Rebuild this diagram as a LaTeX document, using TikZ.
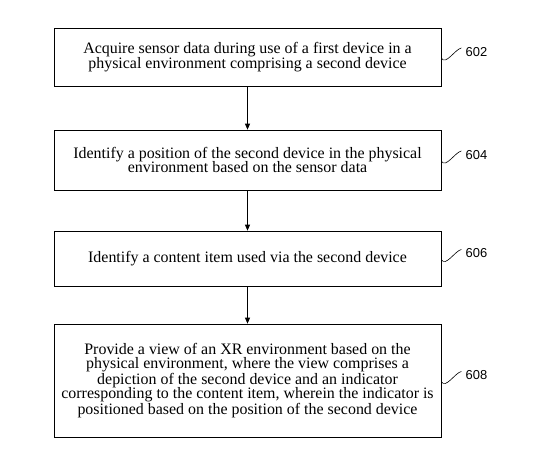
\documentclass[tikz,border=0pt]{standalone}
\usepackage{fontspec}
\setmainfont{Liberation Serif}
\newfontfamily\reffont{Liberation Sans}
\usetikzlibrary{arrows.meta,positioning}

\begin{document}
\begin{tikzpicture}[x=1bp,y=-1bp,
	stepbox/.style={draw,line width=0.7pt,minimum width=387bp,inner sep=0pt,align=center,font=\fontsize{16}{14.6}\selectfont},
	ref/.style={font=\reffont\fontsize{13}{15}\selectfont,anchor=west,xshift=4bp,yshift=-4bp,inner sep=0pt}]
\useasboundingbox (0,0) rectangle (553,456);
\node[stepbox,minimum height=58bp] at (247.5,57) (s602) {Acquire sensor data during use of a first device in a\\ physical environment comprising a second device};
\node[stepbox,minimum height=60bp] at (247.5,160) (s604) {Identify a position of the second device in the physical\\ environment based on the sensor data};
\node[stepbox,minimum height=55bp] at (247.5,258.5) (s606) {Identify a content item used via the second device};
\node[stepbox,minimum height=113bp] at (247.5,380.5) (s608) {Provide a view of an XR environment based on the\\ physical environment, where the view comprises a\\ depiction of the second device and an indicator\\ corresponding to the content item, wherein the indicator is\\ positioned based on the position of the second device};
% arrows between steps
\foreach \a/\b in {602/604,604/606,606/608}
	\draw[line width=0.7pt,-{Triangle[width=5pt,length=6pt]}] (s\a) -- (s\b);
% reference numerals
\foreach \n in {602,604,606,608}
	\draw[line width=0.6pt] (s\n.east) ++(0,1) .. controls +(4,8) and +(-6,1) .. ++(20,-10) node[ref] (l\n) {\n};
\end{tikzpicture}
\end{document}
